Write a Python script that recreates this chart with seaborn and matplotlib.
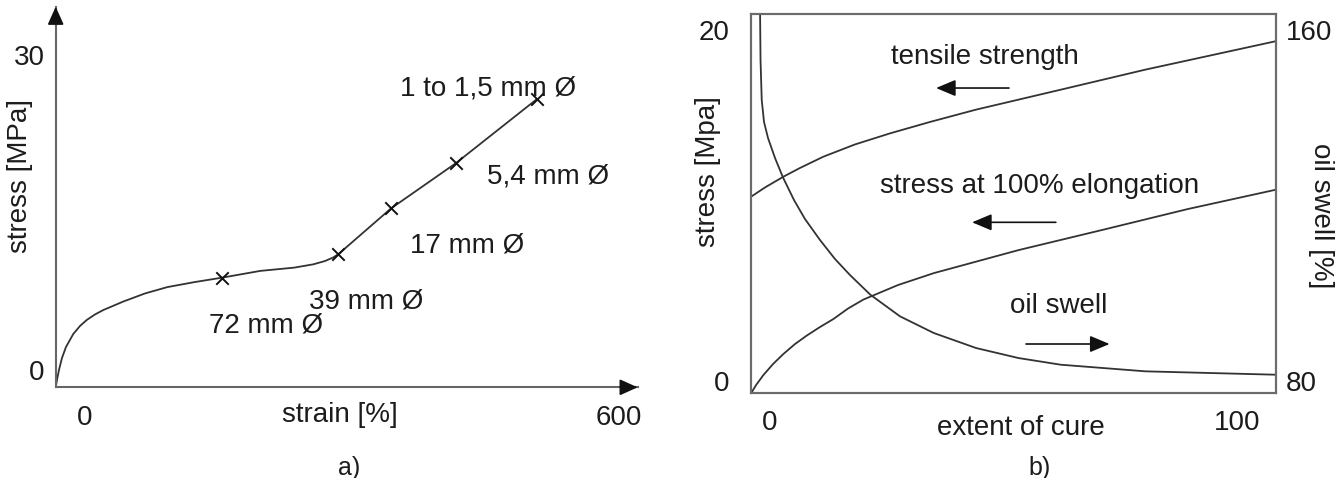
import numpy as np
import pandas as pd
import matplotlib
matplotlib.use('Agg')
import matplotlib.pyplot as plt
import seaborn as sns

# a) stress-strain curve
strain = [-32.92, -31.46, -29.21, -25.84, -21.35, -13.15, -5.62, 1.91, 11.24, 20.56, 43.03, 67.42,
          92.70, 123.6, 154.4, 197.0, 235.0, 256.3, 269.7, 278.7, 284.7, 343.9, 416.9, 507.9]
stress = [-1.648, -0.952, 0.0, 1.143, 2.19, 3.43, 4.19, 4.76, 5.29, 5.71, 6.52, 7.29,
          7.90, 8.38, 8.80, 9.44, 9.75, 10.06, 10.38, 10.71, 11.03, 15.39, 19.71, 25.81]
mark_strain = [154.4, 284.7, 343.9, 416.9, 507.9]
mark_stress = [8.8, 11.03, 15.39, 19.71, 25.81]
mark_labels = ['72 mm Ø', '39 mm Ø', '17 mm Ø', '5,4 mm Ø', '1 to 1,5 mm Ø']
mark_label_pos = [(0.3613, 0.1637), (0.5332, 0.2249), (0.7062, 0.3739), (0.8459, 0.5533), (0.7428, 0.7864)]

# b) cure curves
cure_ts = [-4.07, -1.07, 2.85, 6.42, 11.41, 18.2, 25.7, 34.26, 44.1, 62.3, 80.4, 108.35]
tensile = [10.50, 11.03, 11.64, 12.14, 12.78, 13.48, 14.11, 14.76, 15.46, 16.60, 17.74, 19.36]
cure_el = [-4.07, -3.0, -1.43, 0.64, 2.85, 5.35, 7.86, 10.71, 13.55, 16.70, 19.98, 27.41,
           35.10, 53.23, 71.35, 89.51, 108.35]
stress_100 = [-0.70, -0.23, 0.34, 0.97, 1.54, 2.11, 2.59, 3.08, 3.53, 4.13, 4.64, 5.47,
              6.15, 7.46, 8.62, 9.80, 10.90]
cure_sw = [-2.14, -2.034, -1.777, -1.285, -0.428, 1.071, 2.784, 5.139, 7.495, 10.707, 13.919,
           17.131, 21.499, 27.837, 35.096, 44.154, 53.233, 62.291, 80.428, 108.351]
swell = [165.0, 153.16, 144.05, 139.03, 135.38, 130.83, 126.38, 121.25, 116.92, 112.14, 107.81,
         104.16, 99.67, 94.75, 90.94, 87.52, 85.24, 83.72, 82.21, 81.44]

sns.set_style('white')
plt.rcParams['font.family'] = ['Liberation Sans', 'DejaVu Sans']
FS = 20
TXT = '#1c1c1c'
LINE = '#333333'

fig = plt.figure(figsize=(13.44, 4.78), dpi=100)

# ---------- panel a ----------
ax = fig.add_axes([0.04144, 0.1897, 0.4330, 0.7962])
sns.lineplot(x=strain, y=stress, ax=ax, color=LINE, lw=1.3, sort=False, estimator=None)
sns.scatterplot(x=mark_strain, y=mark_stress, ax=ax, marker='x', s=80, color='#111111', linewidth=1.4, zorder=3)
ax.set_xlim(-32.9, 621)
ax.set_ylim(-1.65, 34.6)
ax.set_xticks([0, 600])
ax.set_yticks([0, 30])
ax.tick_params(axis='both', length=0, labelsize=FS, colors=TXT)
ax.tick_params(axis='x', pad=12.5)
ax.tick_params(axis='y', pad=8)
for s in ['top', 'right']:
    ax.spines[s].set_visible(False)
for s in ['left', 'bottom']:
    ax.spines[s].set_color('#666666')
    ax.spines[s].set_linewidth(1.5)
ax.annotate('', xy=(1, 0), xytext=(0.97, 0), xycoords='axes fraction',
            arrowprops=dict(arrowstyle='-|>,head_length=1.0,head_width=0.45', color='#111111',
                            lw=1.2, mutation_scale=11, shrinkA=0, shrinkB=0), annotation_clip=False)
ax.annotate('', xy=(0, 1), xytext=(0, 0.96), xycoords='axes fraction',
            arrowprops=dict(arrowstyle='-|>,head_length=1.0,head_width=0.45', color='#111111',
                            lw=1.2, mutation_scale=11, shrinkA=0, shrinkB=0), annotation_clip=False)
for lab, (tx, ty) in zip(mark_labels, mark_label_pos):
    ax.text(tx, ty, lab, transform=ax.transAxes, ha='center', va='center', fontsize=FS, color=TXT)
ax.text(0.488, -0.072, 'strain [%]', transform=ax.transAxes, ha='center', va='center', fontsize=FS, color=TXT)
ax.text(-0.061, 0.556, 'stress [MPa]', transform=ax.transAxes, ha='center', va='center',
        rotation=90, fontsize=FS, color=TXT)
fig.text(349 / 1344, 1 - 468 / 478, 'a)', ha='center', va='center', fontsize=18, color=TXT)

# ---------- panel b ----------
bx = fig.add_axes([0.5588, 0.1778, 0.3906, 0.7929])
sns.lineplot(x=cure_ts, y=tensile, ax=bx, color=LINE, lw=1.3, sort=False, estimator=None)
sns.lineplot(x=cure_el, y=stress_100, ax=bx, color=LINE, lw=1.3, sort=False, estimator=None)
bx.set_xlim(-4.07, 108.4)
bx.set_ylim(-0.68, 20.91)
bx.set_xticks([0, 100])
bx.set_yticks([0, 20])
bx.tick_params(axis='both', length=0, labelsize=FS, colors=TXT)
bx.tick_params(axis='x', pad=12)
bx.tick_params(axis='y', pad=15.5)

bx2 = bx.twinx()
sns.lineplot(x=cure_sw, y=swell, ax=bx2, color=LINE, lw=1.3, sort=False, estimator=None)
bx2.set_ylim(77.27, 163.65)
bx2.set_yticks([80, 160])
bx2.tick_params(axis='y', length=0, labelsize=FS, colors=TXT, pad=7)
bx2.set_ylabel('')
for a in (bx, bx2):
    for s in a.spines.values():
        s.set_color('#6b6b6b')
        s.set_linewidth(1.5)

arrows = [((0.4914, 0.8047), (0.3524, 0.8047)),
          ((0.5806, 0.4504), (0.4210, 0.4504)),
          ((0.5238, 0.1293), (0.6830, 0.1293))]
for start, end in arrows:
    bx.annotate('', xy=end, xytext=start, xycoords='axes fraction',
                arrowprops=dict(arrowstyle='-|>,head_length=1.0,head_width=0.42', color='#111111',
                                lw=1.2, mutation_scale=12, shrinkA=0, shrinkB=0))
bx.text(0.4451, 0.8865, 'tensile strength', transform=bx.transAxes, ha='center', va='center', fontsize=FS, color=TXT)
bx.text(0.5501, 0.5462, 'stress at 100% elongation', transform=bx.transAxes, ha='center', va='center', fontsize=FS, color=TXT)
bx.text(0.5867, 0.2296, 'oil swell', transform=bx.transAxes, ha='center', va='center', fontsize=FS, color=TXT)
bx.text((1020.7 - 751) / 525, (393 - 428) / 379, 'extent of cure', transform=bx.transAxes,
        ha='center', va='center', fontsize=FS, color=TXT)
bx.text((708 - 751) / 525, (393 - 172) / 379, 'stress [Mpa]', transform=bx.transAxes,
        ha='center', va='center', rotation=90, fontsize=FS, color=TXT)
bx.text((1321 - 751) / 525, (393 - 216) / 379, 'oil swell [%]', transform=bx.transAxes,
        ha='center', va='center', rotation=270, fontsize=FS, color=TXT)
fig.text(1040 / 1344, 1 - 468 / 478, 'b)', ha='center', va='center', fontsize=18, color=TXT)

fig.savefig('out.png', dpi=100)
